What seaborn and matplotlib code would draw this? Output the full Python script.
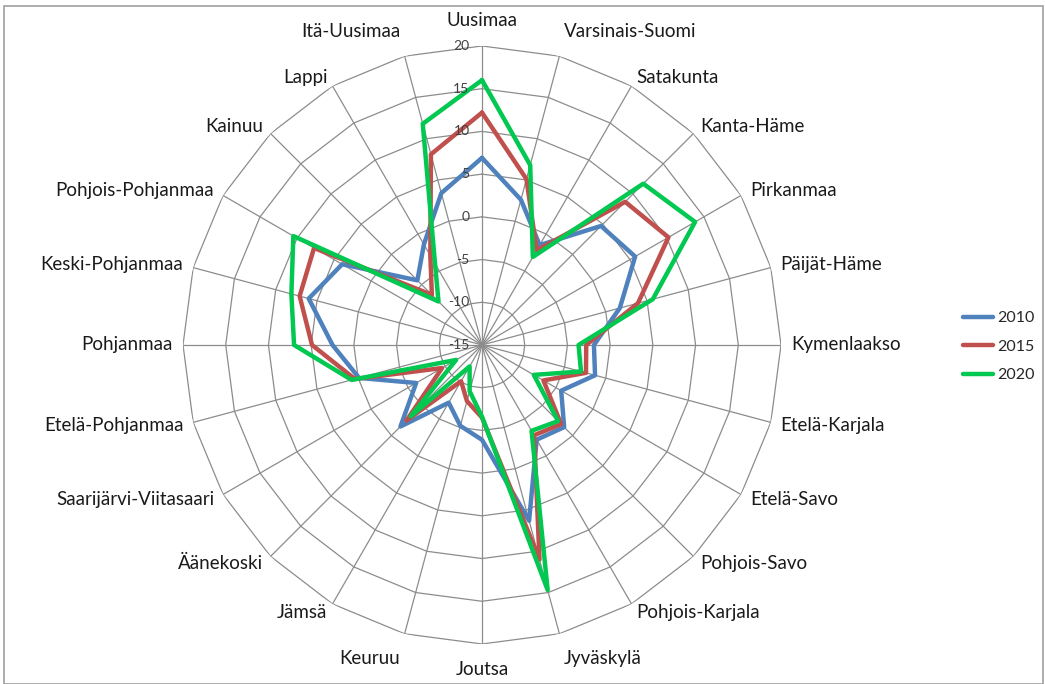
import numpy as np
import pandas as pd
import seaborn as sns
import matplotlib
matplotlib.use("Agg")
import matplotlib.pyplot as plt
from matplotlib.transforms import offset_copy
from matplotlib.patches import Rectangle

regions = ["Uusimaa", "Varsinais-Suomi", "Satakunta", "Kanta-Häme", "Pirkanmaa",
           "Päijät-Häme", "Kymenlaakso", "Etelä-Karjala", "Etelä-Savo", "Pohjois-Savo",
           "Pohjois-Karjala", "Jyväskylä", "Joutsa", "Keuruu", "Jämsä", "Äänekoski",
           "Saarijärvi-Viitasaari", "Etelä-Pohjanmaa", "Pohjanmaa", "Keski-Pohjanmaa",
           "Pohjois-Pohjanmaa", "Kainuu", "Lappi", "Itä-Uusimaa"]

v2010 = [6.9, 2.6, -1.5, 4.7, 5.7, 1.7, -1.9, -1.3, -4.3, -1.4, -2.2, 6.3,
         -3.9, -5.2, -7.2, -1.5, -6.1, -0.1, 2.5, 6.0, 3.9, -4.3, -1.4, 3.4]
v2015 = [12.2, 5.1, -2.2, 8.7, 10.2, 3.9, -2.8, -2.4, -6.7, -1.9, -2.8, 11.0,
         -6.5, -8.2, -10.1, -2.5, -9.6, 0.4, 4.9, 7.1, 7.7, -6.7, -2.9, 8.1]
v2020 = [16.0, 6.8, -3.1, 11.7, 13.8, 5.7, -3.7, -3.0, -8.0, -2.4, -3.4, 14.7,
         -6.6, -9.4, -12.1, -3.2, -11.5, 0.8, 7.0, 8.1, 10.5, -7.8, -4.0, 11.8]

years = ["2010", "2015", "2020"]
colors = ["#4F81BD", "#C0504D", "#00C850"]
rticks = [-15, -10, -5, 0, 5, 10, 15, 20]

sns.set_style("white")
plt.rcParams["font.family"] = ["Lato", "DejaVu Sans"]

n = len(regions)
angles = np.arange(n) * 2 * np.pi / n

li = []
for year, vals in zip(years, [v2010, v2015, v2020]):
    df = pd.DataFrame({"theta": list(angles) + [angles[0] + 2 * np.pi],
                       "value": list(vals) + [vals[0]]})
    df["year"] = year
    li.append(df)
df = pd.concat(li, ignore_index=True)

fig = plt.figure(figsize=(10.45, 6.84), dpi=100)
ax = fig.add_axes([0.1751, 0.0585, 0.5723, 0.8743], projection="polar")
ax.set_theta_zero_location("N")
ax.set_theta_direction(-1)

# polygon grid + spokes
closed = np.append(angles, angles[0])
for r in rticks[1:]:
    ax.plot(closed, [r] * len(closed), color="#8C8C8C", lw=0.9, zorder=1)
for ang in angles:
    ax.plot([ang, ang], [rticks[0], rticks[-1]], color="#8C8C8C", lw=0.9, zorder=1)

a = sns.lineplot(data=df, x="theta", y="value", hue="year", palette=colors,
                 sort=False, estimator=None, lw=3.2, ax=ax, zorder=3, legend=False)

ax.set_ylim(rticks[0], rticks[-1])
ax.grid(False)
ax.spines["polar"].set_visible(False)
ax.set_xticks([])
ax.set_yticks([])
ax.set_xlabel("")
ax.set_ylabel("")

# radial tick labels
trans = offset_copy(ax.transData, fig=fig, x=-9, y=0, units="points")
for r in rticks:
    ax.text(0, r, str(r), ha="right", va="center", fontsize=10, color="#404040",
            transform=trans, zorder=4)

# category labels
for ang, name in zip(angles, regions):
    s, c = np.sin(ang), np.cos(ang)
    ha = "center" if abs(s) < 0.01 else ("left" if s > 0 else "right")
    va = "center"
    rr = 21.2
    if c > 0.95:
        va = "bottom"
        rr = 22.0
    elif c < -0.95:
        va = "top"
        rr = 22.0
    ax.text(ang, rr, name, ha=ha, va=va, fontsize=13.5, color="#1a1a1a")

handles = [plt.Line2D([], [], color=col, lw=3.2) for col in colors]
fig.legend(handles, years, loc="center left", bbox_to_anchor=(0.9215, 0.493),
           frameon=False, fontsize=11.5, handlelength=1.9, labelspacing=0.9,
           handletextpad=0.25, borderpad=0, borderaxespad=0)

fig.patches.append(Rectangle((0.004, 0.0), 0.994, 0.991, transform=fig.transFigure,
                             fill=False, edgecolor="#A0A0A0", lw=1.2))

fig.savefig("out.png", dpi=100)
